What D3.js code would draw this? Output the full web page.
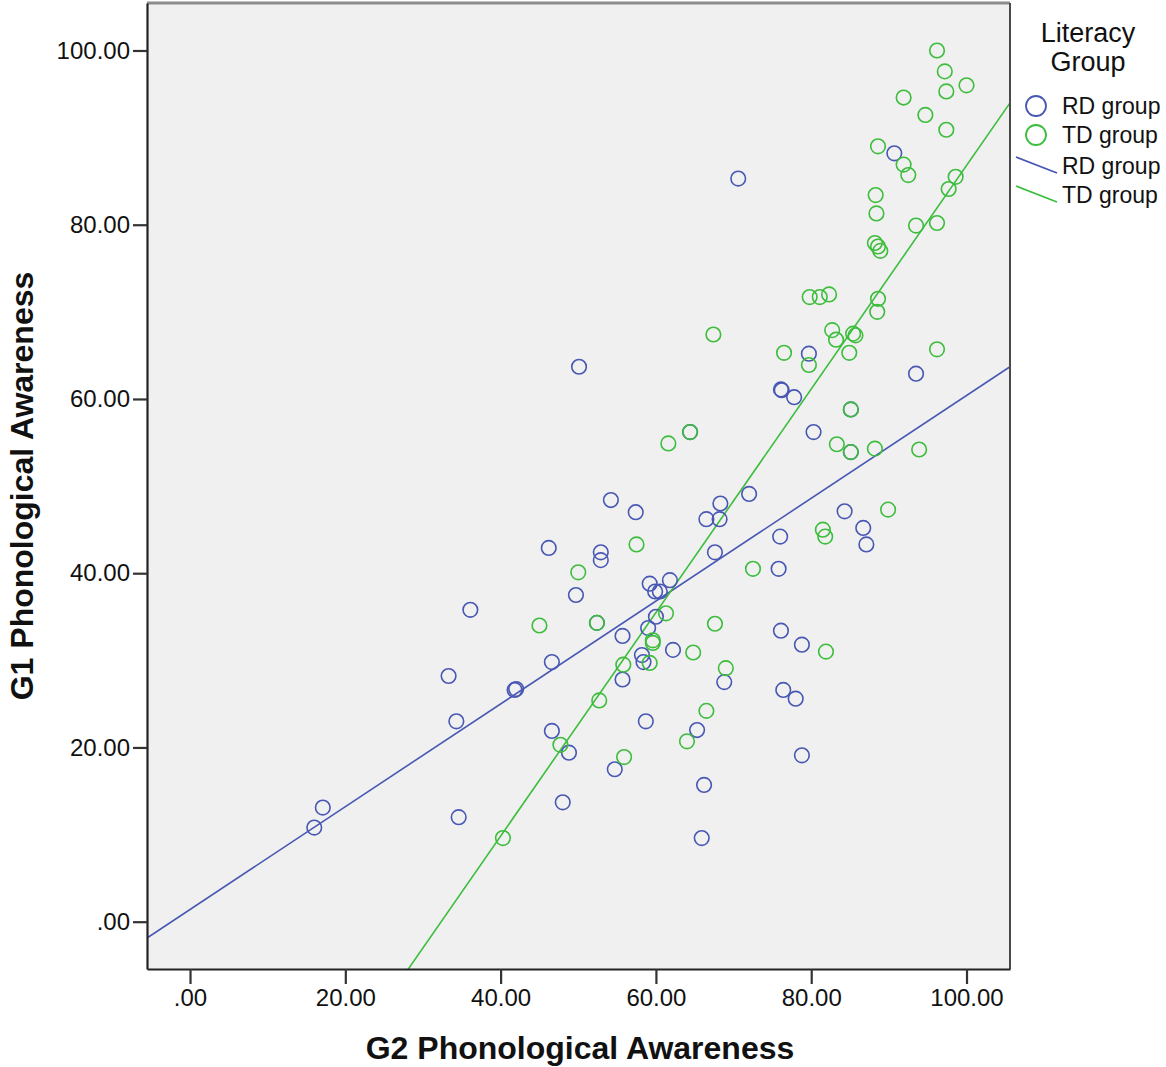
<!DOCTYPE html>
<html>
<head>
<meta charset="utf-8">
<script src="https://cdn.jsdelivr.net/npm/d3@7"></script>
<style>
  body { margin: 0; background: #fff; }
  text { font-family: "Liberation Sans", Arial, sans-serif; }
</style>
</head>
<body>
<div id="chart"></div>
<script>
// DATA

// RD group points: [G2, G1]
const rdPoints = [
  [16.0,10.8],[17.1,13.1],[33.3,28.2],[34.3,23.0],[34.6,12.0],[36.1,35.8],
  [42.0,26.7],[41.8,26.6],[46.2,42.9],[46.6,29.8],[46.6,21.9],[48.8,19.4],
  [48.0,13.7],[49.7,37.5],[50.1,63.7],[52.9,42.4],[52.9,41.5],[52.4,34.3],
  [54.2,48.4],[57.4,47.0],[55.7,32.8],[55.7,27.8],[54.7,17.5],[58.4,29.8],
  [58.2,30.6],[59.0,33.7],[58.7,23.0],[59.2,38.8],[59.9,37.9],[60.5,37.9],
  [61.8,39.2],[60.0,35.0],[62.2,31.2],[65.3,22.0],[66.2,15.7],[65.9,9.6],
  [66.5,46.2],[68.2,46.2],[68.3,48.0],[67.6,42.4],[68.8,27.5],[70.6,85.3],
  [72.0,49.1],[75.8,40.5],[76.0,44.2],[76.1,61.1],[76.2,61.0],[77.8,60.2],
  [79.7,65.2],[80.3,56.2],[76.1,33.4],[78.8,31.8],[76.4,26.6],[78.0,25.6],
  [78.8,19.1],[84.3,47.1],[86.7,45.2],[87.1,43.3],[85.1,58.8],[85.1,53.9],
  [93.5,62.9],[90.7,88.2],[64.4,56.2]
];

// TD group points: [G2, G1]
const tdPoints = [
  [40.3,9.6],[45.0,34.0],[47.7,20.3],[50.0,40.1],[52.4,34.3],[52.7,25.4],
  [55.8,29.5],[55.9,18.9],[57.5,43.3],[59.2,29.7],[59.6,32.3],[59.6,32.0],
  [61.3,35.4],[61.6,54.9],[64.4,56.2],[64.8,30.9],[64.0,20.7],[66.5,24.2],
  [67.6,34.2],[67.4,67.4],[69.0,29.1],[72.5,40.5],[76.5,65.3],[79.7,63.9],
  [79.8,71.7],[81.1,71.7],[82.3,72.0],[81.5,45.0],[81.8,44.2],[81.9,31.0],
  [82.7,67.9],[83.2,66.8],[83.3,54.8],[84.9,65.3],[85.4,67.5],[85.7,67.3],
  [85.1,58.8],[85.1,53.9],[88.2,54.3],[89.9,47.3],[88.5,70.0],[88.6,71.5],
  [88.2,77.9],[88.6,77.5],[88.9,77.0],[88.3,83.4],[88.4,81.3],[88.6,89.0],
  [91.9,86.9],[92.5,85.7],[93.5,79.9],[96.2,80.2],[93.9,54.2],[96.2,65.7],
  [91.9,94.6],[94.7,92.6],[96.2,100.0],[97.2,97.6],[97.4,95.3],[97.4,90.9],
  [97.7,84.1],[98.6,85.5],[100.0,96.0]
];

// Fit lines: [intercept, slope]
const rdFit = [1.40, 0.590];
const tdFit = [-41.5, 1.283];

const groupNames = ["RD group", "TD group"];
const groupColors = ["#4757b3", "#3cbd3c"];
const tickValues = [0, 20, 40, 60, 80, 100];

// LAYOUT
const W = 1166, H = 1067;
const margin = {top: 3, right: 156, bottom: 98, left: 147};
const w = W - margin.left - margin.right;
const h = H - margin.top - margin.bottom;

const svg = d3.select("#chart").append("svg")
  .attr("width", W).attr("height", H);

const g = svg.append("g")
  .attr("transform", `translate(${margin.left},${margin.top})`);

const x = d3.scaleLinear().domain([-5.54, 105.6]).range([0, w]);
const y = d3.scaleLinear().domain([-5.43, 105.45]).range([h, 0]);

const fmt = d => d === 0 ? ".00" : d.toFixed(2);

// plot background
g.append("rect")
  .attr("width", w).attr("height", h)
  .attr("fill", "#f0f0f0");

g.append("clipPath").attr("id", "clip")
  .append("rect").attr("width", w).attr("height", h);

// fit lines
const fits = [rdFit, tdFit];
g.append("g").attr("clip-path", "url(#clip)")
  .selectAll("line")
  .data(fits)
  .join("line")
  .attr("x1", x(x.domain()[0]))
  .attr("x2", x(x.domain()[1]))
  .attr("y1", d => y(d[0] + d[1] * x.domain()[0]))
  .attr("y2", d => y(d[0] + d[1] * x.domain()[1]))
  .attr("stroke", (d, i) => groupColors[i])
  .attr("stroke-width", 1.6);

// points
[rdPoints, tdPoints].forEach((pts, i) => {
  g.append("g")
    .selectAll("circle")
    .data(pts)
    .join("circle")
    .attr("cx", d => x(d[0]))
    .attr("cy", d => y(d[1]))
    .attr("r", 7.3)
    .attr("fill", "none")
    .attr("stroke", groupColors[i])
    .attr("stroke-width", 1.6);
});

// frame: top and right edges
g.append("line").attr("x1", 0).attr("x2", w).attr("y1", 0).attr("y2", 0)
  .attr("stroke", "#8c8c8c").attr("stroke-width", 3);
g.append("line").attr("x1", w).attr("x2", w).attr("y1", 0).attr("y2", h)
  .attr("stroke", "#4a4a4a").attr("stroke-width", 2);

// axes
const xAxis = g.append("g")
  .attr("transform", `translate(0,${h})`)
  .call(d3.axisBottom(x).tickValues(tickValues).tickFormat(fmt)
    .tickSize(15).tickSizeOuter(0).tickPadding(5));
const yAxis = g.append("g")
  .call(d3.axisLeft(y).tickValues(tickValues).tickFormat(fmt)
    .tickSize(14).tickSizeOuter(0).tickPadding(3));

[xAxis, yAxis].forEach(a => {
  a.select(".domain").attr("stroke", "#222").attr("stroke-width", 2.2);
  a.selectAll(".tick line").attr("stroke", "#333").attr("stroke-width", 2.2);
  a.selectAll(".tick text")
    .attr("fill", "#111")
    .style("font-size", "24px")
    .style("font-family", "'Liberation Sans', Arial, sans-serif");
});

// axis titles
svg.append("text")
  .attr("x", 580).attr("y", 1059)
  .attr("text-anchor", "middle")
  .style("font-size", "32px").style("font-weight", "bold")
  .attr("fill", "#111")
  .text("G2 Phonological Awareness");

svg.append("text")
  .attr("transform", "translate(33,486) rotate(-90)")
  .attr("text-anchor", "middle")
  .style("font-size", "32px").style("font-weight", "bold")
  .attr("fill", "#111")
  .text("G1 Phonological Awareness");

// legend
const leg = svg.append("g");
leg.append("text")
  .attr("x", 1088).attr("y", 42)
  .attr("text-anchor", "middle")
  .style("font-size", "27px")
  .attr("fill", "#111")
  .text("Literacy");
leg.append("text")
  .attr("x", 1088).attr("y", 71)
  .attr("text-anchor", "middle")
  .style("font-size", "27px")
  .attr("fill", "#111")
  .text("Group");

const legY = [106, 135, 166, 195];
groupNames.forEach((name, i) => {
  leg.append("circle")
    .attr("cx", 1036).attr("cy", legY[i])
    .attr("r", 10)
    .attr("fill", "none")
    .attr("stroke", groupColors[i])
    .attr("stroke-width", 1.8);
  leg.append("line")
    .attr("x1", 1016).attr("y1", legY[i + 2] - 9)
    .attr("x2", 1057).attr("y2", legY[i + 2] + 7)
    .attr("stroke", groupColors[i])
    .attr("stroke-width", 1.8);
});
[...groupNames, ...groupNames].forEach((name, i) => {
  leg.append("text")
    .attr("x", 1062).attr("y", legY[i] + 8)
    .style("font-size", "23px")
    .attr("fill", "#111")
    .text(name);
});
</script>
</body>
</html>
